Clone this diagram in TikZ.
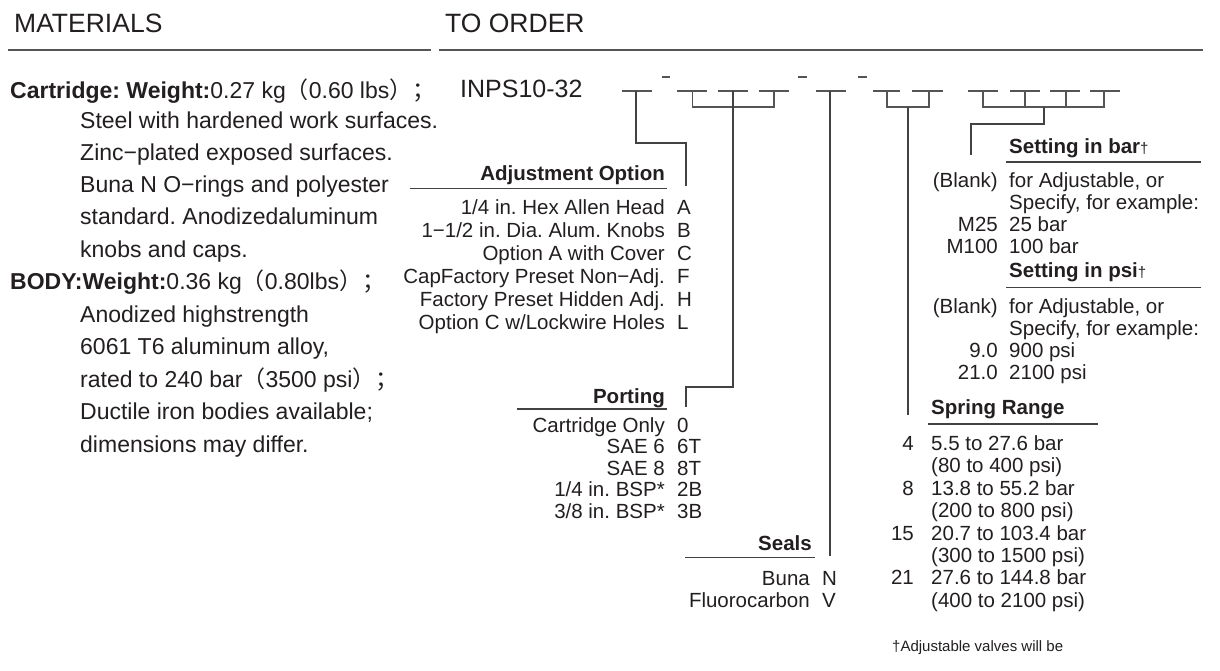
\documentclass[tikz,border=0pt]{standalone}
\usepackage{fontspec}
\setmainfont{Liberation Sans}
\newfontfamily\cjk{Noto Sans CJK SC}
\definecolor{ink}{HTML}{231F20}
\definecolor{rule}{HTML}{555555}
\newcommand\mycma{,}
\frenchspacing
\begin{document}
\begin{tikzpicture}[x=1pt,y=-1pt,
  hdr/.style={inner sep=0pt, text=ink, font=\fontsize{26.5}{30}\selectfont, anchor=base west},
  body/.style={inner sep=0pt, text=ink, font=\fontsize{23}{27}\selectfont, anchor=base west},
  tbl/.style={inner sep=0pt, text=ink, font=\fontsize{20.5}{24}\selectfont},
  tblR/.style={tbl, anchor=base east},
  tblL/.style={tbl, anchor=base west},
  ttl/.style={inner sep=0pt, text=ink, font=\fontsize{20.5}{24}\selectfont\bfseries},
  note/.style={inner sep=0pt, text=ink, font=\fontsize{15}{18}\selectfont, anchor=base west},
  hline/.style={line width=1.8pt, draw=rule},
  tline/.style={line width=1.3pt, draw=ink!85},
  uscore/.style={line width=1.4pt, draw=rule},
  conn/.style={line width=1.3pt, draw=ink!85}]
\useasboundingbox[fill=white] (0,0) rectangle (1220,670);

% headers
\node[hdr] (mat) at (14,32) {MATERIALS};
\node[hdr] (tord) at (445,32) {TO ORDER};
\coordinate (hl1) at (8,50); \coordinate (hl2) at (431,50);
\coordinate (hr1) at (439,50); \coordinate (hr2) at (1203,50);
\draw[hline] (hl1) -- (hl2);
\draw[hline] (hr1) -- (hr2);

% materials text
\node[body] (m1) at (10,98) {\textbf{Cartridge: Weight:}0.27 kg{\cjk （}0.60 lbs{\cjk ）；}};
\node[body] (m2) at (80,128) {Steel with hardened work surfaces.};
\node[body] (m3) at (80,160) {Zinc−plated exposed surfaces.};
\node[body] (m4) at (80,192) {Buna N O−rings and polyester};
\node[body] (m5) at (80,224.5) {standard. Anodizedaluminum};
\node[body] (m6) at (80,257) {knobs and caps.};
\node[body] (m7) at (10,289.5) {\textbf{BODY:Weight:}0.36 kg{\cjk （}0.80lbs{\cjk ）；}};
\node[body] (m8) at (80,322) {Anodized highstrength};
\node[body] (m9) at (80,354.5) {6061 T6 aluminum alloy,};
\node[body] (m10) at (80,387) {rated to 240 bar{\cjk （}3500 psi{\cjk ）；}};
\node[body] (m11) at (80,419.5) {Ductile iron bodies available;};
\node[body] (m12) at (80,452) {dimensions may differ.};

% model code
\node[body, font=\fontsize{25}{28}\selectfont] (code) at (460,97.5) {INPS10-32};

% underscores
\foreach \n/\a/\b in {1/622/652, 2/677/707, 3/718/748, 4/759/789, 5/816/846, 6/873/900, 7/912/943, 8/968/998, 9/1010/1040, 10/1050/1080, 11/1090/1120}{
  \coordinate (u\n a) at (\a,91); \coordinate (u\n b) at (\b,91);
  \draw[uscore] (u\n a) -- (u\n b);
}
% dashes
\foreach \n/\a/\b in {1/662/670, 2/798/807, 3/858/867}{
  \coordinate (d\n a) at (\a,77); \coordinate (d\n b) at (\b,77);
  \draw[uscore] (d\n a) -- (d\n b);
}

% ---- Adjustment option
\node[ttl, anchor=base east] (adjT) at (665,180.5) {Adjustment Option};
\coordinate (adjL1) at (410,188.5); \coordinate (adjL2) at (667,188.5);
\draw[tline] (adjL1) -- (adjL2);
\foreach \i/\d/\c in {0/1\slash 4 in. Hex Allen Head/A, 1/1−1\slash 2 in. Dia. Alum. Knobs/B, 2/Option A with Cover/C, 3/CapFactory Preset Non−Adj./F, 4/Factory Preset Hidden Adj./H, 5/Option C w\slash Lockwire Holes/L}{
  \node[tblR] (adjD\i) at (665,214.5+23*\i) {\d};
  \node[tblL] (adjC\i) at (677,214.5+23*\i) {\c};
}
\coordinate (a1) at (636,91); \coordinate (a2) at (636,143); \coordinate (a3) at (686,143); \coordinate (a4) at (686,186);
\draw[conn] (a1) -- (a2) -- (a3) -- (a4);

% ---- Porting
\node[ttl, anchor=base east] (porT) at (665,403) {Porting};
\coordinate (porL1) at (517,409); \coordinate (porL2) at (667,409);
\draw[tline] (porL1) -- (porL2);
\foreach \i/\d/\c in {0/Cartridge Only/0, 1/SAE 6/6T, 2/SAE 8/8T, 3/1\slash 4 in. BSP*/2B, 4/3\slash 8 in. BSP*/3B}{
  \node[tblR] (porD\i) at (665,432+21.5*\i) {\d};
  \node[tblL] (porC\i) at (677,432+21.5*\i) {\c};
}
\coordinate (p0) at (692.5,91); \coordinate (p1) at (692.5,107); \coordinate (p2) at (774,107); \coordinate (p3) at (774,91);
\draw[uscore] (p0) -- (p1) -- (p2) -- (p3);
\coordinate (pm0) at (733,91); \coordinate (pm1) at (733,387); \coordinate (pm2) at (686,387); \coordinate (pm3) at (686,407);
\draw[conn] (pm0) -- (pm1) -- (pm2) -- (pm3);

% ---- Seals
\node[ttl, anchor=base east] (seaT) at (812,550.5) {Seals};
\coordinate (seaL1) at (685,557.5); \coordinate (seaL2) at (815,557.5);
\draw[tline] (seaL1) -- (seaL2);
\foreach \i/\d/\c in {0/Buna/N, 1/Fluorocarbon/V}{
  \node[tblR] (seaD\i) at (810,585.5+22*\i) {\d};
  \node[tblL] (seaC\i) at (822,585.5+22*\i) {\c};
}
\coordinate (s0) at (830,91); \coordinate (s1) at (830,556);
\draw[conn] (s0) -- (s1);

% ---- Spring range
\node[ttl, anchor=base west] (sprT) at (931,414.5) {Spring Range};
\coordinate (sprL1) at (928,424); \coordinate (sprL2) at (1098,424);
\draw[tline] (sprL1) -- (sprL2);
\foreach \i/\c/\d in {0/4/5.5 to 27.6 bar, 1//(80 to 400 psi), 2/8/13.8 to 55.2 bar, 3//(200 to 800 psi), 4/15/20.7 to 103.4 bar, 5//(300 to 1500 psi), 6/21/27.6 to 144.8 bar, 7//(400 to 2100 psi)}{
  \node[tblR] (sprC\i) at (914,450.5+22.4*\i) {\c};
  \node[tblL] (sprD\i) at (931,450.5+22.4*\i) {\d};
}
\coordinate (r0) at (887,91); \coordinate (r1) at (887,107); \coordinate (r2) at (929,107); \coordinate (r3) at (929,91);
\draw[uscore] (r0) -- (r1) -- (r2) -- (r3);
\coordinate (rm0) at (908,107); \coordinate (rm1) at (908,415);
\draw[conn] (rm0) -- (rm1);

% ---- Setting
\node[ttl, anchor=base west] (barT) at (1009,153.5) {Setting in bar{\mdseries\fontsize{15}{18}\selectfont †}};
\coordinate (barL1) at (1006,162); \coordinate (barL2) at (1201,162);
\draw[tline] (barL1) -- (barL2);
\foreach \i/\c/\d in {0/(Blank)/for Adjustable\mycma{} or, 1//Specify\mycma{} for example:, 2/M25/25 bar, 3/M100/100 bar}{
  \node[tblR] (barC\i) at (998,187+22.3*\i) {\c};
  \node[tblL] (barD\i) at (1009,187+22.3*\i) {\d};
}
\node[ttl, anchor=base west] (psiT) at (1009,277) {Setting in psi{\mdseries\fontsize{15}{18}\selectfont †}};
\coordinate (psiL1) at (1006,287.5); \coordinate (psiL2) at (1201,287.5);
\draw[tline] (psiL1) -- (psiL2);
\foreach \i/\c/\d in {0/(Blank)/for Adjustable\mycma{} or, 1//Specify\mycma{} for example:, 2/9.0/900 psi, 3/21.0/2100 psi}{
  \node[tblR] (psiC\i) at (998,313+22.3*\i) {\c};
  \node[tblL] (psiD\i) at (1009,313+22.3*\i) {\d};
}
\coordinate (t0) at (983,91); \coordinate (t1) at (983,107); \coordinate (t2) at (1104,107); \coordinate (t3) at (1104,91);
\draw[uscore] (t0) -- (t1) -- (t2) -- (t3);
\coordinate (t4) at (1025,91); \coordinate (t5) at (1025,107);
\coordinate (t6) at (1066,91); \coordinate (t7) at (1066,107);
\draw[uscore] (t4) -- (t5); \draw[uscore] (t6) -- (t7);
\coordinate (tm0) at (1044,107); \coordinate (tm1) at (1044,124); \coordinate (tm2) at (971,124); \coordinate (tm3) at (971,155);
\draw[conn] (tm0) -- (tm1) -- (tm2) -- (tm3);

% footnote
\node[note] (fn) at (892,651) {†Adjustable valves will be};
\end{tikzpicture}
\end{document}
